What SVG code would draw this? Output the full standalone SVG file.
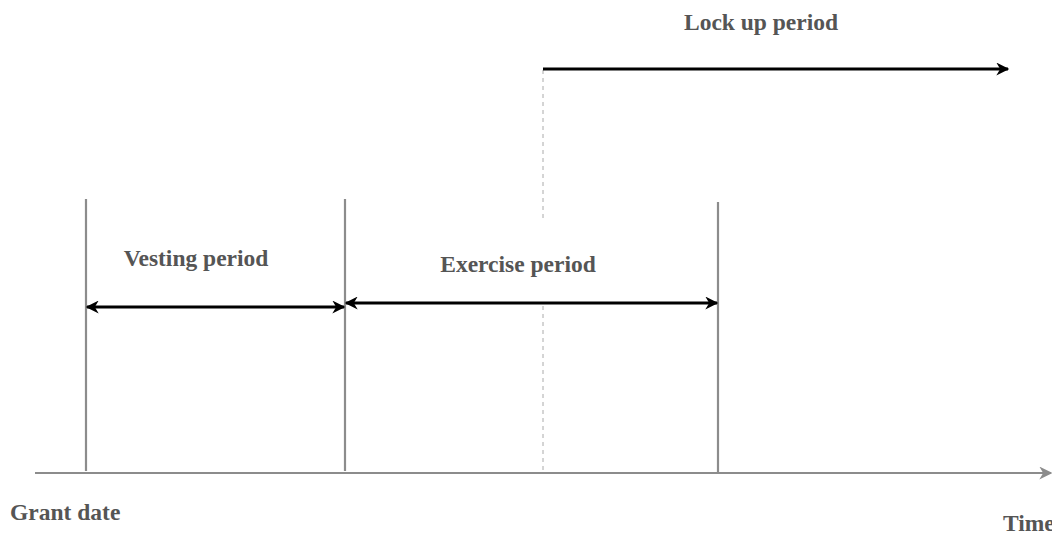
<svg xmlns="http://www.w3.org/2000/svg" width="1052" height="536" viewBox="0 0 1052 536">
<style>
text{font-family:"Liberation Serif","Times New Roman",serif;font-weight:bold;font-size:23.5px;fill:#555}
.g{stroke:#8c8c8c;stroke-width:2.2;fill:none}
.k{stroke:#000;stroke-width:2.8;fill:none}
.d{stroke:#aaa;stroke-width:1;stroke-dasharray:4,4;fill:none}
</style>
<defs>
<marker id="ak" viewBox="0 0 10 10" refX="9" refY="5" markerWidth="15" markerHeight="13" orient="auto-start-reverse" markerUnits="userSpaceOnUse"><path d="M0,0 L10,5 L0,10 L3,5 Z" fill="#000"/></marker>
<marker id="ag" viewBox="0 0 10 10" refX="9" refY="5" markerWidth="13" markerHeight="13" orient="auto" markerUnits="userSpaceOnUse"><path d="M0,0 L10,5 L0,10 L3,5 Z" fill="#8c8c8c"/></marker>
</defs>
<g id="connectors">
<line class="g" x1="35" y1="473" x2="1051" y2="473" stroke-width="2.6" marker-end="url(#ag)"/>
<line class="g" x1="86" y1="199" x2="86" y2="471"/>
<line class="g" x1="345" y1="199" x2="345" y2="471"/>
<line class="g" x1="718" y1="202" x2="718" y2="473"/>
<line class="d" x1="543" y1="70" x2="543" y2="220"/>
<line class="d" x1="543" y1="306" x2="543" y2="472"/>
<line class="k" x1="543" y1="69" x2="1008" y2="69" marker-end="url(#ak)"/>
<line class="k" x1="87" y1="307" x2="344" y2="307" marker-start="url(#ak)" marker-end="url(#ak)"/>
<line class="k" x1="346" y1="303" x2="717" y2="303" marker-start="url(#ak)" marker-end="url(#ak)"/>
</g>
<g id="lockup"><text x="761" y="30" text-anchor="middle">Lock up period</text></g>
<g id="vesting"><text x="196" y="266" text-anchor="middle">Vesting period</text></g>
<g id="exercise"><text x="518" y="272" text-anchor="middle">Exercise period</text></g>
<g id="grant"><text x="10" y="520">Grant date</text></g>
<g id="time"><text x="1003" y="531">Time</text></g>
</svg>
